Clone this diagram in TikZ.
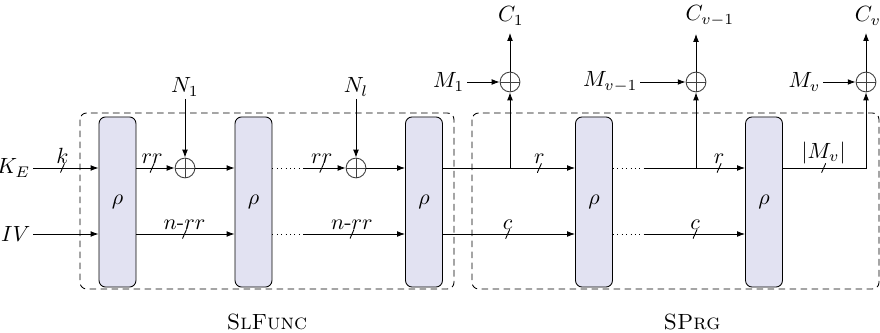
\documentclass[tikz,border=0pt]{standalone}
\usetikzlibrary{arrows.meta, positioning}
\definecolor{rhofill}{RGB}{226,226,242}

\begin{document}
\begin{tikzpicture}[
    x=0.4545pt, y=-0.4545pt,
    rho/.style={rectangle, draw, rounded corners=3pt, minimum width=16.8pt, minimum height=77.3pt,
                inner sep=0pt, fill=rhofill},
    xor/.style={circle, draw=black!75, minimum size=9pt, inner sep=0pt,
                path picture={\draw[black!75] (path picture bounding box.north) -- (path picture bounding box.south)
                                              (path picture bounding box.west) -- (path picture bounding box.east);}},
    io/.style={inner sep=1pt},
    bus/.style={inner sep=0pt, minimum width=2pt, minimum height=4.5pt,
                path picture={\draw[-] (path picture bounding box.south west) -- (path picture bounding box.north east);}},
    buslbl/.style={anchor=south, inner sep=0pt, yshift=-0.8pt},
    arr/.style={-{Latex[length=3.6pt, width=2.6pt]}},
    dots/.style={dash pattern=on 0.4pt off 1.6pt},
    frame/.style={draw, dash pattern=on 3pt off 2pt, rounded corners=3pt}
]
\useasboundingbox (0,0) rectangle (880,333);

% rows of the state
\coordinate (top) at (0,168);
\coordinate (bot) at (0,234);

% the two phases
\draw[frame] (80,113) rectangle (454,289);
\draw[frame] (472,113) rectangle (879,289);
\node (slfunc) at (267,322) {\textsc{SlFunc}};
\node (sprg) at (692,322) {\textsc{SPrg}};

% permutations
\node[rho] (r1) at (117.5,202) {$\rho$};
\node[rho] (r2) at (253.5,202) {$\rho$};
\node[rho] (r3) at (424,202) {$\rho$};
\node[rho] (r4) at (594,202) {$\rho$};
\node[rho] (r5) at (764,202) {$\rho$};

% xors
\node[xor] (x1) at (185,168) {};
\node[xor] (xl) at (356,168) {};
\node[xor] (xm1) at (510,82) {};
\node[xor] (xmv1) at (696,82) {};
\node[xor] (xmv) at (866,82) {};

% inputs and outputs
\node[io, anchor=east] (ke) at (33,168) {$K_E$};
\node[io, anchor=east] (iv) at (33,234) {$IV$};
\node[io] (n1) at (185,87) {$N_1$};
\node[io] (nl) at (356,87) {$N_l$};
\node[io, anchor=east] (m1) at (467,82) {$M_1$};
\node[io, anchor=east] (mv1) at (640,82) {$M_{v-1}$};
\node[io, anchor=east] (mv) at (823,82) {$M_v$};
\node (c1) at (511,16) {$C_1$};
\node (cv1) at (710,16) {$C_{v-1}$};
\node (cv) at (868,16) {$C_v$};

% SlFunc
\draw[arr] (ke) -- node[bus, pos=0.45] (bk) {} (ke -| r1.west);
\draw[arr] (iv) -- (iv -| r1.west);
\draw[arr] (r1.east |- top) -- node[bus, pos=0.41] (brr1) {} (x1);
\draw[arr] (r1.east |- bot) -- node[bus, pos=0.49] (bnr1) {} (r2.west |- bot);
\draw[arr] (n1) -- (x1);
\draw[arr] (x1) -- (r2.west |- top);
\draw[dots] (r2.east |- top) -- (303,168);
\draw[dots] (r2.east |- bot) -- (303,234);
\draw[arr] (303,168) -- node[bus, pos=0.44] (brr2) {} (xl);
\draw[arr] (303,234) -- node[bus, pos=0.48] (bnr2) {} (r3.west |- bot);
\draw[arr] (nl) -- (xl);
\draw[arr] (xl) -- (r3.west |- top);
\node[buslbl] at (bk.north) {$k$};
\node[buslbl] at (brr1.north) {$rr$};
\node[buslbl] at (bnr1.north) {$n$-$rr$};
\node[buslbl] at (brr2.north) {$rr$};
\node[buslbl] at (bnr2.north) {$n$-$rr$};

% SPrg
\draw[arr] (r3.east |- top) -- node[bus, pos=0.73] (br1) {} (r4.west |- top);
\draw[arr] (r3.east |- bot) -- node[bus, pos=0.49] (bc1) {} (r4.west |- bot);
\draw[arr] (xm1 |- top) -- (xm1);
\draw[arr] (m1) -- (xm1);
\draw[arr] (xm1) -- (xm1 |- c1.south);
\draw[dots] (r4.east |- top) -- (645,168);
\draw[dots] (r4.east |- bot) -- (645,234);
\draw[arr] (645,168) -- node[bus, pos=0.74] (br2) {} (r5.west |- top);
\draw[arr] (645,234) -- node[bus, pos=0.5] (bc2) {} (r5.west |- bot);
\draw[arr] (xmv1 |- top) -- (xmv1);
\draw[arr] (mv1) -- (xmv1);
\draw[arr] (xmv1) -- (xmv1 |- cv1.south);
\draw[arr] (r5.east |- top) -| node[bus, pos=0.245] (bmv) {} (xmv);
\draw[arr] (mv) -- (xmv);
\draw[arr] (xmv) -- (xmv |- cv.south);
\node[buslbl] at (br1.north) {$r$};
\node[buslbl] at (bc1.north) {$c$};
\node[buslbl] at (br2.north) {$r$};
\node[buslbl] at (bc2.north) {$c$};
\node[buslbl] at (bmv.north) {$|M_v|$};
\end{tikzpicture}
\end{document}
